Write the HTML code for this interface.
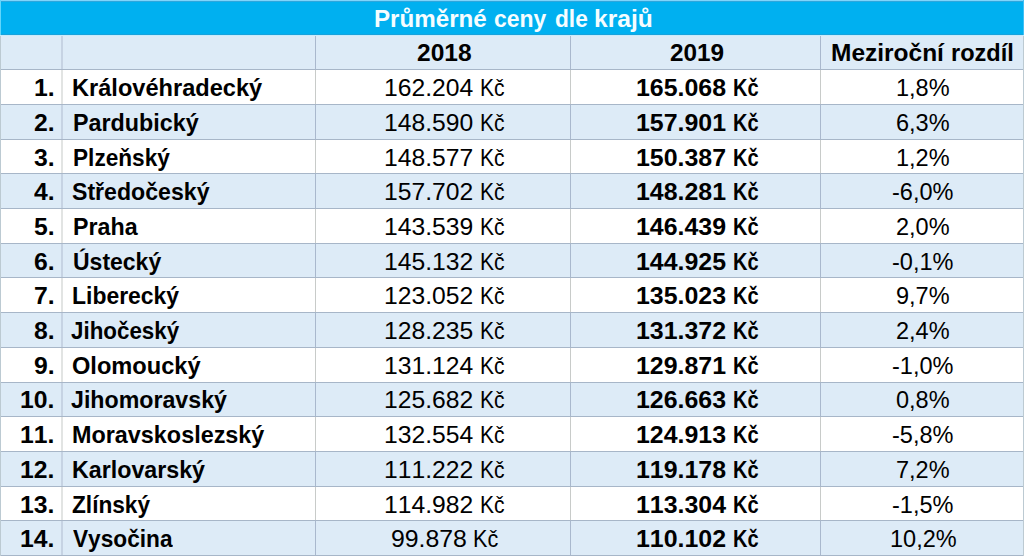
<!DOCTYPE html>
<html><head><meta charset="utf-8"><style>
html,body{margin:0;padding:0;background:#fff;}
#w{position:relative;width:1024px;height:556px;overflow:hidden;background:#fff;font-family:"Liberation Sans",sans-serif;color:#000;}
#w div{position:absolute;}
.t{white-space:nowrap;line-height:0;height:0;font-size:24.5px;transform-origin:0 0;font-kerning:none;}
.b{font-weight:bold;}
</style></head><body><div id="w">
<div style="left:0px;top:0px;width:1024px;height:35px;background:#00b0f0"></div>
<div style="left:0px;top:0px;width:1024px;height:1px;background:#80d4fb"></div>
<div style="left:0px;top:1px;width:1024px;height:1px;background:#2ea6dc"></div>
<div style="left:0px;top:34px;width:1024px;height:1px;background:#18a2dc"></div>
<div style="left:0px;top:35px;width:1024px;height:1px;background:#c8ebfb"></div>
<div style="left:0px;top:0px;width:1px;height:35px;background:#62d6fb"></div>
<div style="left:1023px;top:0px;width:1px;height:35px;background:#40c0f4"></div>
<div style="left:0px;top:36px;width:1024px;height:33px;background:#ddebf7"></div>
<div style="left:61px;top:36px;width:2px;height:33px;background:#c6d3e3"></div>
<div style="left:315px;top:36px;width:1px;height:33px;background:#a9b8cd"></div>
<div style="left:570px;top:36px;width:1px;height:33px;background:#a9b8cd"></div>
<div style="left:820px;top:36px;width:1px;height:33px;background:#a9b8cd"></div>
<div style="left:0px;top:70px;width:1024px;height:34px;background:#ffffff"></div>
<div style="left:61px;top:70px;width:2px;height:34px;background:#e2e4e3"></div>
<div style="left:315px;top:70px;width:1px;height:34px;background:#c8cbc9"></div>
<div style="left:570px;top:70px;width:1px;height:34px;background:#c8cbc9"></div>
<div style="left:820px;top:70px;width:1px;height:34px;background:#c8cbc9"></div>
<div style="left:0px;top:105px;width:1024px;height:34px;background:#ddebf7"></div>
<div style="left:61px;top:105px;width:2px;height:34px;background:#c6d3e3"></div>
<div style="left:315px;top:105px;width:1px;height:34px;background:#a9b8cd"></div>
<div style="left:570px;top:105px;width:1px;height:34px;background:#a9b8cd"></div>
<div style="left:820px;top:105px;width:1px;height:34px;background:#a9b8cd"></div>
<div style="left:0px;top:140px;width:1024px;height:33px;background:#ffffff"></div>
<div style="left:61px;top:140px;width:2px;height:33px;background:#e2e4e3"></div>
<div style="left:315px;top:140px;width:1px;height:33px;background:#c8cbc9"></div>
<div style="left:570px;top:140px;width:1px;height:33px;background:#c8cbc9"></div>
<div style="left:820px;top:140px;width:1px;height:33px;background:#c8cbc9"></div>
<div style="left:0px;top:174px;width:1024px;height:34px;background:#ddebf7"></div>
<div style="left:61px;top:174px;width:2px;height:34px;background:#c6d3e3"></div>
<div style="left:315px;top:174px;width:1px;height:34px;background:#a9b8cd"></div>
<div style="left:570px;top:174px;width:1px;height:34px;background:#a9b8cd"></div>
<div style="left:820px;top:174px;width:1px;height:34px;background:#a9b8cd"></div>
<div style="left:0px;top:209px;width:1024px;height:34px;background:#ffffff"></div>
<div style="left:61px;top:209px;width:2px;height:34px;background:#e2e4e3"></div>
<div style="left:315px;top:209px;width:1px;height:34px;background:#c8cbc9"></div>
<div style="left:570px;top:209px;width:1px;height:34px;background:#c8cbc9"></div>
<div style="left:820px;top:209px;width:1px;height:34px;background:#c8cbc9"></div>
<div style="left:0px;top:244px;width:1024px;height:33px;background:#ddebf7"></div>
<div style="left:61px;top:244px;width:2px;height:33px;background:#c6d3e3"></div>
<div style="left:315px;top:244px;width:1px;height:33px;background:#a9b8cd"></div>
<div style="left:570px;top:244px;width:1px;height:33px;background:#a9b8cd"></div>
<div style="left:820px;top:244px;width:1px;height:33px;background:#a9b8cd"></div>
<div style="left:0px;top:278px;width:1024px;height:34px;background:#ffffff"></div>
<div style="left:61px;top:278px;width:2px;height:34px;background:#e2e4e3"></div>
<div style="left:315px;top:278px;width:1px;height:34px;background:#c8cbc9"></div>
<div style="left:570px;top:278px;width:1px;height:34px;background:#c8cbc9"></div>
<div style="left:820px;top:278px;width:1px;height:34px;background:#c8cbc9"></div>
<div style="left:0px;top:313px;width:1024px;height:34px;background:#ddebf7"></div>
<div style="left:61px;top:313px;width:2px;height:34px;background:#c6d3e3"></div>
<div style="left:315px;top:313px;width:1px;height:34px;background:#a9b8cd"></div>
<div style="left:570px;top:313px;width:1px;height:34px;background:#a9b8cd"></div>
<div style="left:820px;top:313px;width:1px;height:34px;background:#a9b8cd"></div>
<div style="left:0px;top:348px;width:1024px;height:34px;background:#ffffff"></div>
<div style="left:61px;top:348px;width:2px;height:34px;background:#e2e4e3"></div>
<div style="left:315px;top:348px;width:1px;height:34px;background:#c8cbc9"></div>
<div style="left:570px;top:348px;width:1px;height:34px;background:#c8cbc9"></div>
<div style="left:820px;top:348px;width:1px;height:34px;background:#c8cbc9"></div>
<div style="left:0px;top:383px;width:1024px;height:33px;background:#ddebf7"></div>
<div style="left:61px;top:383px;width:2px;height:33px;background:#c6d3e3"></div>
<div style="left:315px;top:383px;width:1px;height:33px;background:#a9b8cd"></div>
<div style="left:570px;top:383px;width:1px;height:33px;background:#a9b8cd"></div>
<div style="left:820px;top:383px;width:1px;height:33px;background:#a9b8cd"></div>
<div style="left:0px;top:417px;width:1024px;height:34px;background:#ffffff"></div>
<div style="left:61px;top:417px;width:2px;height:34px;background:#e2e4e3"></div>
<div style="left:315px;top:417px;width:1px;height:34px;background:#c8cbc9"></div>
<div style="left:570px;top:417px;width:1px;height:34px;background:#c8cbc9"></div>
<div style="left:820px;top:417px;width:1px;height:34px;background:#c8cbc9"></div>
<div style="left:0px;top:452px;width:1024px;height:34px;background:#ddebf7"></div>
<div style="left:61px;top:452px;width:2px;height:34px;background:#c6d3e3"></div>
<div style="left:315px;top:452px;width:1px;height:34px;background:#a9b8cd"></div>
<div style="left:570px;top:452px;width:1px;height:34px;background:#a9b8cd"></div>
<div style="left:820px;top:452px;width:1px;height:34px;background:#a9b8cd"></div>
<div style="left:0px;top:487px;width:1024px;height:33px;background:#ffffff"></div>
<div style="left:61px;top:487px;width:2px;height:33px;background:#e2e4e3"></div>
<div style="left:315px;top:487px;width:1px;height:33px;background:#c8cbc9"></div>
<div style="left:570px;top:487px;width:1px;height:33px;background:#c8cbc9"></div>
<div style="left:820px;top:487px;width:1px;height:33px;background:#c8cbc9"></div>
<div style="left:0px;top:521px;width:1024px;height:34px;background:#ddebf7"></div>
<div style="left:61px;top:521px;width:2px;height:34px;background:#c6d3e3"></div>
<div style="left:315px;top:521px;width:1px;height:34px;background:#a9b8cd"></div>
<div style="left:570px;top:521px;width:1px;height:34px;background:#a9b8cd"></div>
<div style="left:820px;top:521px;width:1px;height:34px;background:#a9b8cd"></div>
<div style="left:0px;top:69px;width:1024px;height:1px;background:#a7b6c8"></div>
<div style="left:0px;top:104px;width:1024px;height:1px;background:#a7b6c8"></div>
<div style="left:0px;top:139px;width:1024px;height:1px;background:#a7b6c8"></div>
<div style="left:0px;top:173px;width:1024px;height:1px;background:#a7b6c8"></div>
<div style="left:0px;top:208px;width:1024px;height:1px;background:#a7b6c8"></div>
<div style="left:0px;top:243px;width:1024px;height:1px;background:#a7b6c8"></div>
<div style="left:0px;top:277px;width:1024px;height:1px;background:#a7b6c8"></div>
<div style="left:0px;top:312px;width:1024px;height:1px;background:#a7b6c8"></div>
<div style="left:0px;top:347px;width:1024px;height:1px;background:#a7b6c8"></div>
<div style="left:0px;top:382px;width:1024px;height:1px;background:#a7b6c8"></div>
<div style="left:0px;top:416px;width:1024px;height:1px;background:#a7b6c8"></div>
<div style="left:0px;top:451px;width:1024px;height:1px;background:#a7b6c8"></div>
<div style="left:0px;top:486px;width:1024px;height:1px;background:#a7b6c8"></div>
<div style="left:0px;top:520px;width:1024px;height:1px;background:#a7b6c8"></div>
<div style="left:0px;top:555px;width:1024px;height:1px;background:#a7b6c8"></div>
<div style="left:0px;top:36px;width:1px;height:520px;background:#bccad2"></div>
<div style="left:1023px;top:36px;width:1px;height:520px;background:#bccad2"></div>
<div class="t b" style="left:373.96px;top:19px;transform:scaleX(0.9862);color:#f6fdff;">Průměrné</div>
<div class="t b" style="left:494.37px;top:19px;transform:scaleX(0.9358);color:#f6fdff;">ceny</div>
<div class="t b" style="left:554.66px;top:19px;transform:scaleX(0.9266);color:#f6fdff;">dle</div>
<div class="t b" style="left:594.28px;top:19px;transform:scaleX(1.0025);color:#f6fdff;">krajů</div>
<div class="t b" style="left:417.30px;top:53px;transform:scaleX(1.0018);">2018</div>
<div class="t b" style="left:669.71px;top:53px;transform:scaleX(0.9933);">2019</div>
<div class="t b" style="left:831.14px;top:53px;transform:scaleX(0.9994);">Meziroční</div>
<div class="t b" style="left:951.40px;top:53px;transform:scaleX(0.9622);">rozdíl</div>
<div class="t b" style="left:34.16px;top:88px;transform:scaleX(1.0100);">1.</div>
<div class="t b" style="left:72.20px;top:88px;transform:scaleX(0.9629);">Královéhradecký</div>
<div class="t" style="left:383.88px;top:88px;transform:scaleX(1.0068);">162.204</div>
<div class="t" style="left:480.46px;top:88px;transform:scaleX(0.8601);">Kč</div>
<div class="t b" style="left:636.20px;top:88px;transform:scaleX(1.0170);">165.068</div>
<div class="t b" style="left:732.94px;top:88px;transform:scaleX(0.8177);">Kč</div>
<div class="t" style="left:896.40px;top:88px;transform:scaleX(0.9600);">1,8%</div>
<div class="t b" style="left:34.16px;top:123px;transform:scaleX(1.0100);">2.</div>
<div class="t b" style="left:72.62px;top:123px;transform:scaleX(0.9521);">Pardubický</div>
<div class="t" style="left:383.88px;top:123px;transform:scaleX(1.0068);">148.590</div>
<div class="t" style="left:480.46px;top:123px;transform:scaleX(0.8601);">Kč</div>
<div class="t b" style="left:636.20px;top:123px;transform:scaleX(1.0170);">157.901</div>
<div class="t b" style="left:732.94px;top:123px;transform:scaleX(0.8177);">Kč</div>
<div class="t" style="left:896.40px;top:123px;transform:scaleX(0.9600);">6,3%</div>
<div class="t b" style="left:34.16px;top:158px;transform:scaleX(1.0100);">3.</div>
<div class="t b" style="left:72.67px;top:158px;transform:scaleX(0.9239);">Plzeňský</div>
<div class="t" style="left:383.88px;top:158px;transform:scaleX(1.0068);">148.577</div>
<div class="t" style="left:480.46px;top:158px;transform:scaleX(0.8601);">Kč</div>
<div class="t b" style="left:636.20px;top:158px;transform:scaleX(1.0170);">150.387</div>
<div class="t b" style="left:732.94px;top:158px;transform:scaleX(0.8177);">Kč</div>
<div class="t" style="left:896.40px;top:158px;transform:scaleX(0.9600);">1,2%</div>
<div class="t b" style="left:34.16px;top:192px;transform:scaleX(1.0100);">4.</div>
<div class="t b" style="left:72.07px;top:192px;transform:scaleX(0.9437);">Středočeský</div>
<div class="t" style="left:383.88px;top:192px;transform:scaleX(1.0068);">157.702</div>
<div class="t" style="left:480.46px;top:192px;transform:scaleX(0.8601);">Kč</div>
<div class="t b" style="left:636.20px;top:192px;transform:scaleX(1.0170);">148.281</div>
<div class="t b" style="left:732.94px;top:192px;transform:scaleX(0.8177);">Kč</div>
<div class="t" style="left:892.47px;top:192px;transform:scaleX(0.9600);">-6,0%</div>
<div class="t b" style="left:34.16px;top:227px;transform:scaleX(1.0100);">5.</div>
<div class="t b" style="left:72.63px;top:227px;transform:scaleX(0.9487);">Praha</div>
<div class="t" style="left:383.88px;top:227px;transform:scaleX(1.0068);">143.539</div>
<div class="t" style="left:480.46px;top:227px;transform:scaleX(0.8601);">Kč</div>
<div class="t b" style="left:636.20px;top:227px;transform:scaleX(1.0170);">146.439</div>
<div class="t b" style="left:732.94px;top:227px;transform:scaleX(0.8177);">Kč</div>
<div class="t" style="left:896.40px;top:227px;transform:scaleX(0.9600);">2,0%</div>
<div class="t b" style="left:34.16px;top:262px;transform:scaleX(1.0100);">6.</div>
<div class="t b" style="left:72.87px;top:262px;transform:scaleX(0.9384);">Ústecký</div>
<div class="t" style="left:383.88px;top:262px;transform:scaleX(1.0068);">145.132</div>
<div class="t" style="left:480.46px;top:262px;transform:scaleX(0.8601);">Kč</div>
<div class="t b" style="left:636.20px;top:262px;transform:scaleX(1.0170);">144.925</div>
<div class="t b" style="left:732.94px;top:262px;transform:scaleX(0.8177);">Kč</div>
<div class="t" style="left:892.47px;top:262px;transform:scaleX(0.9600);">-0,1%</div>
<div class="t b" style="left:34.16px;top:296px;transform:scaleX(1.0100);">7.</div>
<div class="t b" style="left:72.35px;top:296px;transform:scaleX(0.9364);">Liberecký</div>
<div class="t" style="left:383.88px;top:296px;transform:scaleX(1.0068);">123.052</div>
<div class="t" style="left:480.46px;top:296px;transform:scaleX(0.8601);">Kč</div>
<div class="t b" style="left:636.20px;top:296px;transform:scaleX(1.0170);">135.023</div>
<div class="t b" style="left:732.94px;top:296px;transform:scaleX(0.8177);">Kč</div>
<div class="t" style="left:896.40px;top:296px;transform:scaleX(0.9600);">9,7%</div>
<div class="t b" style="left:34.16px;top:331px;transform:scaleX(1.0100);">8.</div>
<div class="t b" style="left:71.45px;top:331px;transform:scaleX(0.9123);">Jihočeský</div>
<div class="t" style="left:383.88px;top:331px;transform:scaleX(1.0068);">128.235</div>
<div class="t" style="left:480.46px;top:331px;transform:scaleX(0.8601);">Kč</div>
<div class="t b" style="left:636.20px;top:331px;transform:scaleX(1.0170);">131.372</div>
<div class="t b" style="left:732.94px;top:331px;transform:scaleX(0.8177);">Kč</div>
<div class="t" style="left:896.40px;top:331px;transform:scaleX(0.9600);">2,4%</div>
<div class="t b" style="left:34.16px;top:366px;transform:scaleX(1.0100);">9.</div>
<div class="t b" style="left:72.03px;top:366px;transform:scaleX(0.9636);">Olomoucký</div>
<div class="t" style="left:383.88px;top:366px;transform:scaleX(1.0068);">131.124</div>
<div class="t" style="left:480.46px;top:366px;transform:scaleX(0.8601);">Kč</div>
<div class="t b" style="left:636.20px;top:366px;transform:scaleX(1.0170);">129.871</div>
<div class="t b" style="left:732.94px;top:366px;transform:scaleX(0.8177);">Kč</div>
<div class="t" style="left:892.47px;top:366px;transform:scaleX(0.9600);">-1,0%</div>
<div class="t b" style="left:20.40px;top:400px;transform:scaleX(1.0100);">10.</div>
<div class="t b" style="left:71.43px;top:400px;transform:scaleX(0.9464);">Jihomoravský</div>
<div class="t" style="left:383.88px;top:400px;transform:scaleX(1.0068);">125.682</div>
<div class="t" style="left:480.46px;top:400px;transform:scaleX(0.8601);">Kč</div>
<div class="t b" style="left:636.20px;top:400px;transform:scaleX(1.0170);">126.663</div>
<div class="t b" style="left:732.94px;top:400px;transform:scaleX(0.8177);">Kč</div>
<div class="t" style="left:896.40px;top:400px;transform:scaleX(0.9600);">0,8%</div>
<div class="t b" style="left:20.40px;top:435px;transform:scaleX(1.0100);">11.</div>
<div class="t b" style="left:72.22px;top:435px;transform:scaleX(0.9542);">Moravskoslezský</div>
<div class="t" style="left:383.88px;top:435px;transform:scaleX(1.0068);">132.554</div>
<div class="t" style="left:480.46px;top:435px;transform:scaleX(0.8601);">Kč</div>
<div class="t b" style="left:636.20px;top:435px;transform:scaleX(1.0170);">124.913</div>
<div class="t b" style="left:732.94px;top:435px;transform:scaleX(0.8177);">Kč</div>
<div class="t" style="left:892.47px;top:435px;transform:scaleX(0.9600);">-5,8%</div>
<div class="t b" style="left:20.40px;top:470px;transform:scaleX(1.0100);">12.</div>
<div class="t b" style="left:72.33px;top:470px;transform:scaleX(0.9483);">Karlovarský</div>
<div class="t" style="left:383.88px;top:470px;transform:scaleX(1.0068);">111.222</div>
<div class="t" style="left:480.46px;top:470px;transform:scaleX(0.8601);">Kč</div>
<div class="t b" style="left:636.20px;top:470px;transform:scaleX(1.0170);">119.178</div>
<div class="t b" style="left:732.94px;top:470px;transform:scaleX(0.8177);">Kč</div>
<div class="t" style="left:896.40px;top:470px;transform:scaleX(0.9600);">7,2%</div>
<div class="t b" style="left:20.40px;top:505px;transform:scaleX(1.0100);">13.</div>
<div class="t b" style="left:72.22px;top:505px;transform:scaleX(0.9247);">Zlínský</div>
<div class="t" style="left:383.88px;top:505px;transform:scaleX(1.0068);">114.982</div>
<div class="t" style="left:480.46px;top:505px;transform:scaleX(0.8601);">Kč</div>
<div class="t b" style="left:636.20px;top:505px;transform:scaleX(1.0170);">113.304</div>
<div class="t b" style="left:732.94px;top:505px;transform:scaleX(0.8177);">Kč</div>
<div class="t" style="left:892.47px;top:505px;transform:scaleX(0.9600);">-1,5%</div>
<div class="t b" style="left:20.40px;top:539px;transform:scaleX(1.0100);">14.</div>
<div class="t b" style="left:72.51px;top:539px;transform:scaleX(0.9252);">Vysočina</div>
<div class="t" style="left:390.75px;top:539px;transform:scaleX(1.0132);">99.878</div>
<div class="t" style="left:473.22px;top:539px;transform:scaleX(0.8830);">Kč</div>
<div class="t b" style="left:636.20px;top:539px;transform:scaleX(1.0170);">110.102</div>
<div class="t b" style="left:732.94px;top:539px;transform:scaleX(0.8177);">Kč</div>
<div class="t" style="left:889.86px;top:539px;transform:scaleX(0.9600);">10,2%</div>
</div></body></html>
